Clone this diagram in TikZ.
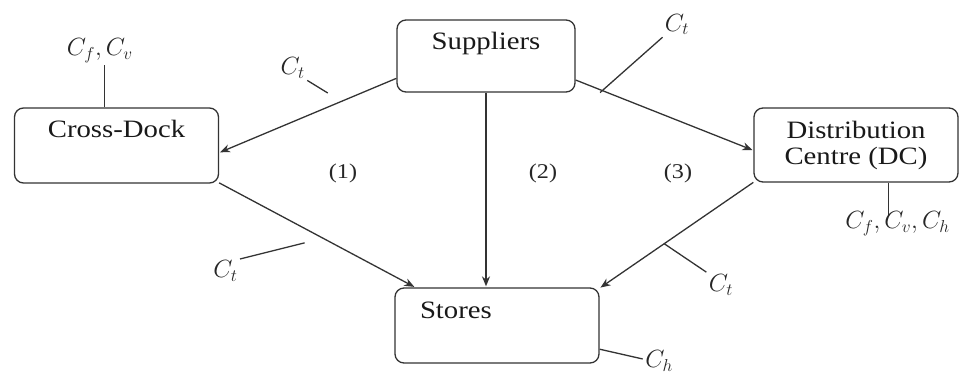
\documentclass[tikz,border=0pt]{standalone}
\usepackage{fontspec}
\setmainfont{Liberation Serif}[FakeStretch=1.15]
\usetikzlibrary{arrows.meta}

\begin{document}
\begin{tikzpicture}[x=1pt,y=-1pt,>={Stealth[length=10pt,width=8pt]},shorten >=1pt,line width=1.3pt,draw=black!80,
  box/.style={draw=black!80,rounded corners=9pt,inner sep=0pt,minimum width=204pt,minimum height=75pt,text=black!90,font=\fontsize{25}{26}\selectfont},
  toptext/.style={text height=30pt,text depth=45pt},
  lbl/.style={inner sep=1pt,text=black!85,font=\fontsize{23}{26}\selectfont},
  num/.style={text=black!85,font=\fontsize{21}{24}\selectfont}]

\useasboundingbox (0,0) rectangle (961,377);

\node[box,toptext,minimum width=178pt,minimum height=72pt,text depth=42pt] (sup) at (486,56) {Suppliers};
\node[box,toptext] (cd) at (116.5,145.5) {Cross-Dock};
\node[box,minimum height=74pt,align=center] (dc) at (856,145) {Distribution\\Centre (DC)};
\node[box,toptext,text width=154pt,align=left,inner xsep=25pt] (st) at (497,325.5) {Stores};

% flows
\draw[->] (sup.194) -- coordinate[pos=0.31] (e1) (cd.-4);
\draw[->] (sup.-15) -- coordinate[pos=0.15] (e2) (dc.183);
\draw[->] (sup.south) -- (sup.south |- st.north);
\draw[->] (cd.-20) -- coordinate[pos=0.53] (e3) (st.155);
\draw[->] (dc.200) -- coordinate[pos=0.58] (e4) (st.20);

% costs
\draw[shorten <=16pt] (e1) -- ++(-35,-21.5) coordinate (t1) node[lbl,anchor=south east] (l1) {$C_t$};
\draw[shorten <=-3pt] (e2) -- ++(61,-54) coordinate (t2) node[lbl,anchor=south west] (l2) {$C_t$};
\draw[shorten <=19pt] (e3) -- ++(-84,21) coordinate (t3) node[lbl,anchor=north east] (l3) {$C_t$};
\draw (e4) -- ++(43,29) coordinate (t4) node[lbl,anchor=north west] (l4) {$C_t$};
\draw (st.-13) -- ++(44,10) coordinate (t5) node[lbl,anchor=west,yshift=-2pt] (l5) {$C_h$};
\draw (cd.107) -- ++(0,-43) coordinate (t6) node[lbl,above,xshift=-5pt] (l6) {$C_f,C_v$};
\draw (dc.-49) -- ++(0,33) coordinate (t7);
\node[lbl,anchor=north west] (l7) at ([xshift=-45pt,yshift=6pt]t7) {$C_f,C_v,C_h$};

% routes
\node[num] (r1) at (343,173) {(1)};
\node[num] (r2) at (543,173) {(2)};
\node[num] (r3) at (678,173) {(3)};

\end{tikzpicture}
\end{document}
